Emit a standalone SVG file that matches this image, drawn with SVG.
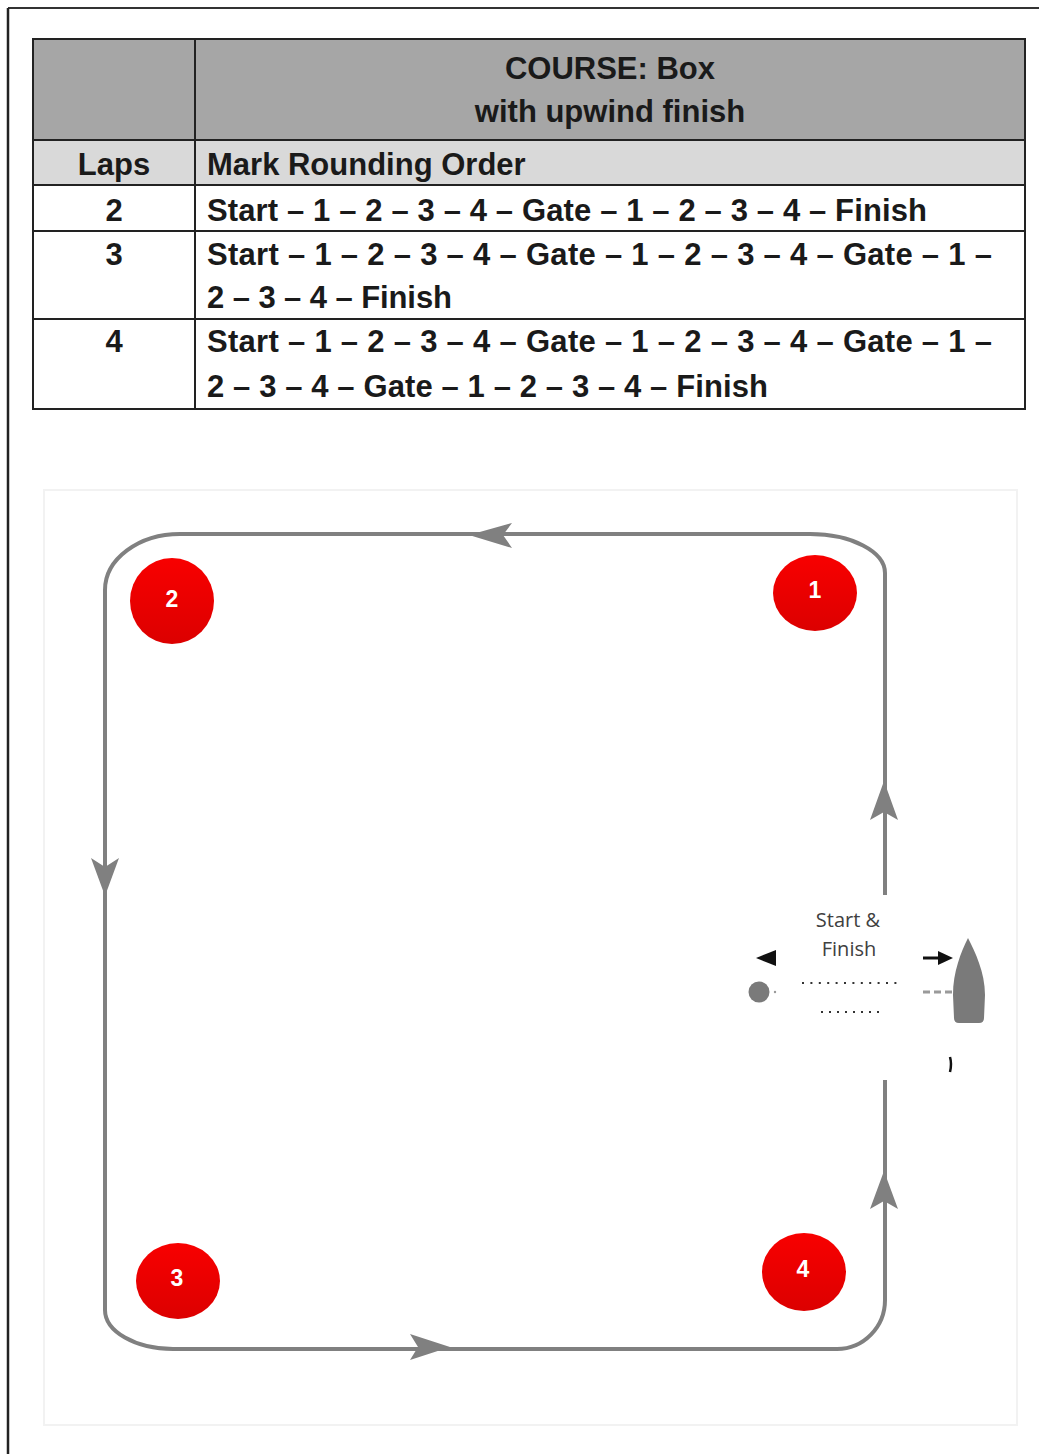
<svg xmlns="http://www.w3.org/2000/svg" width="1039" height="1454" viewBox="0 0 1039 1454">
  <style>
    .tbl { font-family: "Liberation Sans", Arial, sans-serif; font-weight: bold; fill: #1a1a1a; font-size: 31px; }
    .grid { stroke: #222; stroke-width: 2; fill: none; }
    .course { stroke: #808080; stroke-width: 4; fill: none; }
    .arrowhead { fill: #808080; }
    .mark { fill: url(#redgrad); }
    .marknum { font-family: "Liberation Sans", Arial, sans-serif; font-weight: bold; fill: #ffffff; font-size: 23px; text-anchor: middle; }
    .sf { font-family: "Open Sans", "Liberation Sans", sans-serif; fill: #404040; font-size: 20px; text-anchor: middle; }
  </style>
  <defs>
    <linearGradient id="redgrad" x1="0" y1="0" x2="0" y2="1">
      <stop offset="0" stop-color="#f80000"/>
      <stop offset="1" stop-color="#dc0000"/>
    </linearGradient>
  </defs>

  <rect x="0" y="0" width="1039" height="1454" fill="#ffffff"/>

  <!-- page frame -->
  <g id="page-frame">
    <line x1="8" y1="8" x2="1039" y2="8" stroke="#333" stroke-width="2"/>
    <line x1="8" y1="8" x2="8" y2="1454" stroke="#222" stroke-width="2.5"/>
  </g>

  <!-- table -->
  <g id="table">
    <rect x="33" y="39" width="992" height="101" fill="#a6a6a6"/>
    <rect x="33" y="140" width="992" height="45" fill="#d9d9d9"/>
    <rect x="33" y="39" width="992" height="370" class="grid"/>
    <line x1="33" y1="140" x2="1025" y2="140" class="grid"/>
    <line x1="33" y1="185" x2="1025" y2="185" class="grid"/>
    <line x1="33" y1="231" x2="1025" y2="231" class="grid"/>
    <line x1="33" y1="319" x2="1025" y2="319" class="grid"/>
    <line x1="195" y1="39" x2="195" y2="409" class="grid"/>

    <text class="tbl" x="610" y="79" text-anchor="middle" font-size="32.5">COURSE: Box</text>
    <text class="tbl" x="610" y="122" text-anchor="middle">with upwind finish</text>
    <text class="tbl" x="114" y="175" text-anchor="middle">Laps</text>
    <text class="tbl" x="207" y="175">Mark Rounding Order</text>

    <text class="tbl" x="114" y="221" text-anchor="middle">2</text>
    <text class="tbl" x="207" y="221" textLength="720" lengthAdjust="spacing">Start – 1 – 2 – 3 – 4 – Gate – 1 – 2 – 3 – 4 – Finish</text>

    <text class="tbl" x="114" y="265" text-anchor="middle">3</text>
    <text class="tbl" x="207" y="265" textLength="785" lengthAdjust="spacing">Start – 1 – 2 – 3 – 4 – Gate – 1 – 2 – 3 – 4 – Gate – 1 –</text>
    <text class="tbl" x="207" y="308" textLength="245" lengthAdjust="spacing">2 – 3 – 4 – Finish</text>

    <text class="tbl" x="114" y="352" text-anchor="middle">4</text>
    <text class="tbl" x="207" y="352" textLength="785" lengthAdjust="spacing">Start – 1 – 2 – 3 – 4 – Gate – 1 – 2 – 3 – 4 – Gate – 1 –</text>
    <text class="tbl" x="207" y="397" textLength="561" lengthAdjust="spacing">2 – 3 – 4 – Gate – 1 – 2 – 3 – 4 – Finish</text>
  </g>

  <!-- course area frame -->
  <rect id="course-area" x="44" y="490" width="973" height="935" fill="#ffffff" stroke="#f2f2f2" stroke-width="2"/>

  <!-- connectors -->
  <g id="connectors">
    <path class="course" d="M885,895 L885,573 A75,39 0 0 0 810,534 L180,534 A75,56 0 0 0 105,590 L105,1310 A68,39 0 0 0 173,1349 L837,1349 A48,49 0 0 0 885,1300 L885,1080"/>
    <polygon class="arrowhead" points="469,535 512,523 503,535 512,548"/>
    <polygon class="arrowhead" points="105,896 91,858 105,867 119,858"/>
    <polygon class="arrowhead" points="450,1347 410,1334 418,1347 410,1360"/>
    <polygon class="arrowhead" points="884,1171 870,1209 884,1201 898,1209"/>
    <polygon class="arrowhead" points="884,781 870,820 884,812 898,820"/>
  </g>

  <!-- marks -->
  <g id="mark-1">
    <ellipse class="mark" cx="815" cy="593" rx="42" ry="38"/>
    <text class="marknum" x="815" y="598">1</text>
  </g>
  <g id="mark-2">
    <ellipse class="mark" cx="172" cy="601" rx="42" ry="43"/>
    <text class="marknum" x="172" y="607">2</text>
  </g>
  <g id="mark-3">
    <ellipse class="mark" cx="178" cy="1281" rx="42" ry="38"/>
    <text class="marknum" x="177" y="1286">3</text>
  </g>
  <g id="mark-4">
    <ellipse class="mark" cx="804" cy="1272" rx="42" ry="39"/>
    <text class="marknum" x="803" y="1277">4</text>
  </g>

  <!-- start & finish -->
  <g id="start-finish">
    <text class="sf" x="848" y="927">Start &amp;</text>
    <text class="sf" x="849" y="956">Finish</text>
    <polygon points="756,958 776,950 776,966" fill="#111"/>
    <circle cx="759" cy="992" r="10.5" fill="#7a7a7a"/>
    <circle cx="775" cy="992" r="1.2" fill="#999"/>
    <line x1="802" y1="983" x2="897" y2="983" stroke="#333" stroke-width="2" stroke-dasharray="2 6.4"/>
    <line x1="821" y1="1012" x2="881" y2="1012" stroke="#333" stroke-width="2" stroke-dasharray="2 6"/>
    <line x1="923" y1="958" x2="941" y2="958" stroke="#111" stroke-width="3"/>
    <polygon points="953,958 938,951 938,965" fill="#111"/>
    <line x1="923" y1="992" x2="953" y2="992" stroke="#9a9a9a" stroke-width="3" stroke-dasharray="7 4"/>
    <path d="M968,938 C975,952 985,972 985,995 L984,1018 Q984,1023 979,1023 L959,1023 Q954,1023 954,1018 L953,995 C953,972 961,952 968,938 Z" fill="#7a7a7a"/>
    <path d="M950,1057 Q952,1064 950,1072" stroke="#111" stroke-width="2.5" fill="none"/>
  </g>
</svg>
